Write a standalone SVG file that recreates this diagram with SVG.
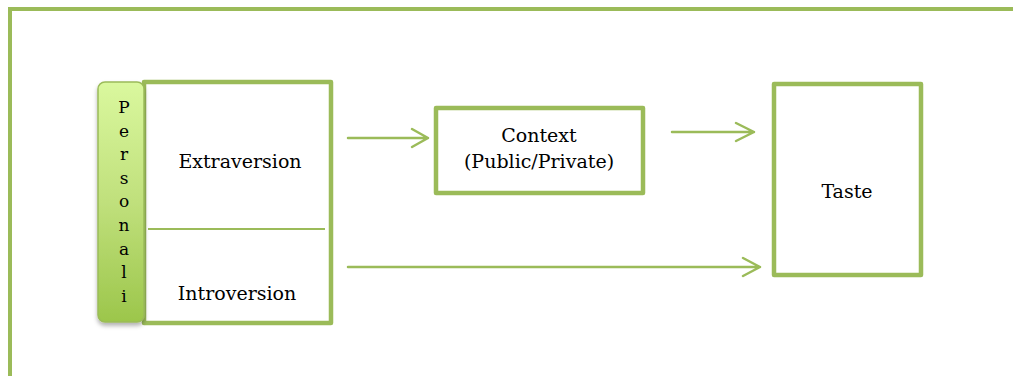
<svg xmlns="http://www.w3.org/2000/svg" width="1013" height="376" viewBox="0 0 1013 376">
<style>
.box{fill:#fff;stroke:#9bbb59;stroke-width:4.5;stroke-linejoin:round}
.conn{fill:none;stroke:#9bbb59;stroke-width:2.5;stroke-linecap:round;stroke-linejoin:round}
.t{font-family:"DejaVu Serif","Liberation Serif",serif;font-size:19px;fill:#000;text-anchor:middle}
.l{font-family:"DejaVu Serif","Liberation Serif",serif;font-size:17px;fill:#000;text-anchor:middle}
</style>
<defs>
<linearGradient id="g" x1="0" y1="0" x2="0" y2="1">
<stop offset="0" stop-color="#daf89e"/>
<stop offset="0.5" stop-color="#c0e07c"/>
<stop offset="1" stop-color="#9cc64b"/>
</linearGradient>
<filter id="sh" x="-30%" y="-10%" width="160%" height="125%">
<feDropShadow dx="0" dy="3" stdDeviation="2" flood-color="#000" flood-opacity="0.3"/>
</filter>
</defs>
<rect width="1013" height="376" fill="#fff"/>
<g id="frame">
<path d="M1013 9 H10 V376" fill="none" stroke="#9bbb59" stroke-width="4"/>
</g>
<g id="traits">
<rect class="box" x="144" y="82" width="187" height="241"/>
<line x1="148" y1="229" x2="325" y2="229" stroke="#9bbb59" stroke-width="2"/>
<text class="t" x="240" y="168">Extraversion</text>
<text class="t" x="237" y="300">Introversion</text>
</g>
<g id="personality">
<rect x="98" y="82" width="46" height="240" rx="7" fill="url(#g)" stroke="#9bbb59" stroke-width="1.5" filter="url(#sh)"/>
<text class="l" x="124" y="113">P</text>
<text class="l" x="124" y="137">e</text>
<text class="l" x="124" y="160">r</text>
<text class="l" x="124" y="184">s</text>
<text class="l" x="124" y="207">o</text>
<text class="l" x="124" y="231">n</text>
<text class="l" x="124" y="255">a</text>
<text class="l" x="124" y="278">l</text>
<text class="l" x="124" y="302">i</text>
</g>
<g id="context">
<rect class="box" x="436" y="108" width="207" height="85"/>
<text class="t" x="539" y="142">Context</text>
<text class="t" x="539" y="168">(Public/Private)</text>
</g>
<g id="taste">
<rect class="box" x="774" y="84" width="147" height="191"/>
<text class="t" x="847" y="198">Taste</text>
</g>
<g id="connectors">
<path class="conn" d="M348 138 H428 M412 129 L428 138 L412 147"/>
<path class="conn" d="M672 132 H754 M736 123 L754 132 L736 141"/>
<path class="conn" d="M348 267 H760 M743 258 L760 267 L743 276"/>
</g>
</svg>
